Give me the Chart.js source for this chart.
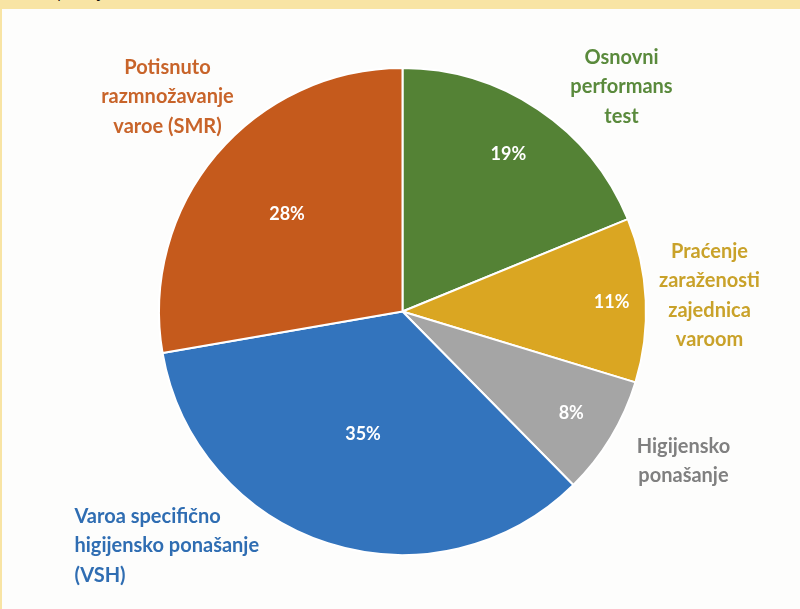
<!DOCTYPE html>
<html>
<head>
<meta charset="utf-8">
<script src="https://cdn.jsdelivr.net/npm/chart.js@4.4.7/dist/chart.umd.min.js"></script>
<style>
  html, body { margin: 0; padding: 0; }
  body { width: 800px; height: 609px; background: #f8e4a4; position: relative; overflow: hidden; }
  .panel { position: absolute; left: 2px; top: 9px; right: 0; bottom: 0; background: #fdfdfc; }
  .cut { position: absolute; left: 57px; top: -20px; font: 16px "Open Sans", sans-serif; color: #111; }
  canvas { position: absolute; left: 0; top: 0; }
</style>
</head>
<body>
<div class="panel"></div>
<div class="cut">promjena</div>
<canvas id="pie" width="800" height="609"></canvas>
<script>
(function () {
  "use strict";

  // ---- Data ----
  var categories = [
    "Osnovni performans test",
    "Praćenje zaraženosti zajednica varoom",
    "Higijensko ponašanje",
    "Varoa specifično higijensko ponašanje (VSH)",
    "Potisnuto razmnožavanje varoe (SMR)"
  ];
  var shares = [19, 11, 8, 35, 28];

  // ---- Style ----
  var FILLS = ["#548235", "#daa622", "#a5a5a5", "#3374bd", "#c55a1c"];
  var TEXT = ["#5a8a3c", "#c9a22a", "#808080", "#2f6db2", "#c8642a"];
  var innerRadiusFrac = [0.78, 0.86, 0.81, 0.53, 0.62];

  // outside label lines, anchor (offset from pie centre) and alignment
  var outside = [
    { lines: ["Osnovni", "performans", "test"], dx: 219, dy: -254, align: "center" },
    { lines: ["Praćenje", "zaraženosti", "zajednica", "varoom"], dx: 307, dy: -60, align: "center" },
    { lines: ["Higijensko", "ponašanje"], dx: 281, dy: 135, align: "center" },
    { lines: ["Varoa specifično", "higijensko ponašanje", "(VSH)"], dx: -328, dy: 205, align: "left" },
    { lines: ["Potisnuto", "razmnožavanje", "varoe (SMR)"], dx: -235, dy: -244, align: "center" }
  ];

  var FONT = '"Lato", "Open Sans", sans-serif';

  var labelPlugin = {
    id: "sliceLabels",
    afterDatasetsDraw: function (chart) {
      var ctx = chart.ctx;
      var meta = chart.getDatasetMeta(0);
      var total = shares.reduce(function (a, b) { return a + b; }, 0);
      ctx.save();
      meta.data.forEach(function (arc, i) {
        var p = arc.getProps(["x", "y", "startAngle", "endAngle", "outerRadius"], true);
        var mid = (p.startAngle + p.endAngle) / 2;
        var r = p.outerRadius * innerRadiusFrac[i];
        ctx.fillStyle = "#ffffff";
        ctx.font = "bold 18px " + FONT;
        ctx.textAlign = "center";
        ctx.textBaseline = "middle";
        ctx.fillText(Math.round(shares[i] / total * 100) + "%", p.x + Math.cos(mid) * r, p.y + Math.sin(mid) * r);

        var o = outside[i];
        ctx.fillStyle = TEXT[i];
        ctx.font = "bold 20px " + FONT;
        ctx.textAlign = o.align;
        o.lines.forEach(function (line, k) {
          ctx.fillText(line, p.x + o.dx, p.y + o.dy + k * 29.5);
        });
      });
      ctx.restore();
    }
  };

  new Chart(document.getElementById("pie"), {
    type: "pie",
    data: {
      labels: categories,
      datasets: [{
        data: shares,
        backgroundColor: FILLS,
        borderColor: "#ffffff",
        borderWidth: 2
      }]
    },
    options: {
      responsive: false,
      animation: false,
      layout: { padding: { left: 158, right: 153, top: 67, bottom: 53 } },
      plugins: {
        legend: { display: false },
        tooltip: { enabled: false }
      }
    },
    plugins: [labelPlugin]
  });
})();
</script>
</body>
</html>
